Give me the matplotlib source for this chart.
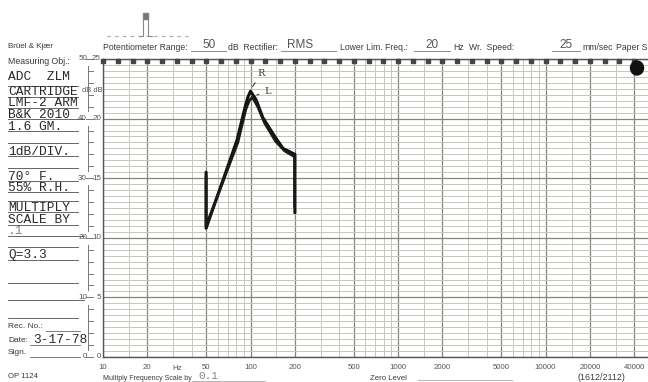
import numpy as np
import matplotlib
matplotlib.use("Agg")
import matplotlib.pyplot as plt
from matplotlib.lines import Line2D

# chart data
freq_labels = [10, 20, 50, 100, 200, 500, 1000, 2000, 5000, 10000, 20000, 40000]
db_major = [0, 5, 10, 15, 20, 25]
db_major_50 = [0, 10, 20, 30, 40, 50]

r_freq = [50, 50, 81, 92, 96, 100, 109, 121, 146, 166, 200, 200]
r_db = [15.5, 10.8, 18.2, 21.0, 21.8, 22.3, 21.6, 20.1, 18.5, 17.5, 17.0, 12.1]
l_freq = [50, 50, 82, 93, 98, 103, 112, 125, 148, 170, 199, 199]
l_db = [15.2, 11.0, 18.0, 20.8, 21.5, 21.8, 21.0, 19.6, 18.1, 17.3, 16.8, 12.6]

left_notes = ["ADC  ZLM", "CARTRIDGE", "LMF-2 ARM", "B&K 2010", "1.6 GM.",
              "1dB/DIV.", "70° F.", "55% R.H.", "MULTIPLY", "SCALE BY", ".1", "Q=3.3"]
left_note_y = [80, 95, 106, 118, 130, 155, 180, 191, 211, 223, 234, 258]

W, H = 648, 382
fig = plt.figure(figsize=(W / 100, H / 100), dpi=100)
fig.patch.set_facecolor("white")

def fx(px):
    return px / W

def fy(py):
    return 1 - py / H

SANS = "Liberation Sans"
MONO = "Liberation Mono"
INK = "#3a3a3a"
HAND = "#555555"

# main recorder grid
ax = fig.add_axes([fx(103), fy(357), 1 - fx(103), fy(59) - fy(357)])
ax.set_xscale("log")
ax.set_xlim(10, 49500)
ax.set_ylim(0, 25)

minor_col = "#c6c6ba"
major_col = "#85857f"
for k in range(1, 5):
    for m in [1, 1.5, 2, 3, 4, 5, 6, 7, 8, 9]:
        f = m * 10 ** k
        if f > 49500:
            continue
        heavy = f in freq_labels
        ax.axvline(f, color=major_col if heavy else minor_col,
                   lw=0.9 if heavy else 0.7, zorder=1)
for v in np.arange(0, 25.01, 0.5):
    heavy = abs(v % 5) < 1e-6
    ax.axhline(v, color=major_col if heavy else minor_col,
               lw=0.9 if heavy else 0.7, zorder=1)

# third-octave marks along the top edge
third = 10 * 10 ** (np.arange(0, 37) / 10.0)
third = third[third < 49500]
ax.plot(third, np.full(len(third), 24.8), "s", ms=2.8, color="#444444",
        clip_on=False, zorder=3)

ax.plot(r_freq, r_db, color="#111111", lw=2.2, solid_capstyle="round",
        solid_joinstyle="round", zorder=4)
ax.plot(l_freq, l_db, color="#1a1a1a", lw=2.0, solid_capstyle="round",
        solid_joinstyle="round", zorder=4)

ax.annotate("R", xy=(101, 22.5), xytext=(112, 23.6), fontsize=7, family="DejaVu Serif",
            color=INK, arrowprops=dict(arrowstyle="-", color=INK, lw=0.8))
ax.annotate("L", xy=(106, 21.9), xytext=(124, 22.1), fontsize=7, family="DejaVu Serif",
            color=INK, arrowprops=dict(arrowstyle="-", color=INK, lw=0.8))

ax.spines["right"].set_visible(False)
for side in ["left", "top", "bottom"]:
    ax.spines[side].set_color("#555555")
    ax.spines[side].set_linewidth(1.0)
ax.set_xticks([])
ax.set_yticks([])
ax.minorticks_off()

# x labels under the grid
xt = ax.get_xaxis_transform()
for f in freq_labels:
    ax.text(f, -0.035, str(f), transform=xt, ha="center", va="center",
            fontsize=5.6, family=SANS, color=HAND)
fig.text(fx(172), fy(368), "Hz", fontsize=5.6, family=SANS, color=HAND, va="center")

# y labels (50 dB / 25 dB scale) and side ruler
for a, b in zip(db_major_50, db_major):
    yy = fy(357 - b * 11.92)
    fig.text(fx(101), yy, "%d" % b, fontsize=5.8, family=SANS,
             color=HAND, ha="right", va="center")
    fig.text(fx(87), yy, "%d" % a, fontsize=5.8, family=SANS,
             color=HAND, ha="right", va="center")
    fig.add_artist(Line2D([fx(86), fx(93)], [yy] * 2, color="#777777", lw=0.7))
for b in db_major[:-1]:
    fig.add_artist(Line2D([fx(88)] * 2, [fy(357 - (b + 0.6) * 11.92), fy(357 - (b + 4.4) * 11.92)],
                          color="#777777", lw=0.7))
    for t in range(1, 5):
        yy = fy(357 - (b + t) * 11.92)
        fig.add_artist(Line2D([fx(88), fx(93)], [yy, yy], color="#777777", lw=0.7))
fig.text(fx(82), fy(90), "dB dB", fontsize=5.4, family=SANS, color=HAND, va="center")

# header line
fig.text(fx(8), fy(47), "Brüel & Kjær", fontsize=5.8, family=SANS, color=INK, va="center")
header = [(103, "Potentiometer Range:"), (228, "dB  Rectifier:"),
          (340, "Lower Lim. Freq.:"), (453, "Hz"), (469, "Wr.  Speed:"),
          (582, "mm/sec"), (616, "Paper Speed")]
for px, s in header:
    fig.text(fx(px), fy(47), s, fontsize=6.2, family=SANS, color=INK, va="center")
blanks = [(191, 226, "50"), (281, 336, "RMS"), (414, 450, "20"), (552, 580, "25")]
for x0, x1, s in blanks:
    fig.add_artist(Line2D([fx(x0), fx(x1)], [fy(51)] * 2, color="#777777", lw=0.6))
blank_text_x = [209, 300, 432, 566]
for (x0, x1, s), cx in zip(blanks, blank_text_x):
    fig.text(fx(cx), fy(45), s, fontsize=8.5, family=SANS, color=HAND,
             ha="center", va="center")

# pulse sketch at the top
fig.add_artist(Line2D([fx(107), fx(188)], [fy(36), fy(36)], color="#aaaaaa", lw=0.8,
                      ls=(0, (3, 4))))
fig.add_artist(Line2D([fx(139), fx(143), fx(143), fx(148), fx(148), fx(152)],
                      [fy(36), fy(36), fy(13), fy(13), fy(36), fy(36)],
                      color="#888888", lw=0.8))
fig.add_artist(plt.Rectangle((fx(143), fy(19)), fx(5), fy(13) - fy(19),
                             color="#777777", transform=fig.transFigure))

# punched mark top right
fig.add_artist(matplotlib.patches.Ellipse((fx(637), fy(68)), fx(13), fy(61) - fy(75),
                                          color="#111111", transform=fig.transFigure))

# left side panel
fig.text(fx(8), fy(62), "Measuring Obj.:", fontsize=6.3, family=SANS, color=INK, va="center")
for s, py in zip(left_notes, left_note_y):
    fig.text(fx(8), fy(py), s, fontsize=9.3, family=MONO, color="#2a2a2a", va="baseline",
             alpha=0.55 if s == ".1" else 1.0)
rules = [86, 97, 108, 119, 131, 143, 156, 168, 181, 192, 201, 212, 225, 236,
         247, 260, 283, 300, 318]
for py in rules:
    x1 = 84 if py in (119, 236, 300) else 78
    fig.add_artist(Line2D([fx(8), fx(x1)], [fy(py)] * 2, color="#666666", lw=0.7))

fig.text(fx(8), fy(327), "Rec. No.:", fontsize=6, family=SANS, color=INK, va="center")
fig.add_artist(Line2D([fx(46), fx(80)], [fy(331)] * 2, color="#666666", lw=0.6))
fig.text(fx(8), fy(340), "Date:", fontsize=6, family=SANS, color=INK, va="center")
fig.text(fx(33), fy(343), "3-17-78", fontsize=9.3, family=MONO, color="#2a2a2a", va="baseline")
fig.add_artist(Line2D([fx(30), fx(80)], [fy(345)] * 2, color="#666666", lw=0.6))
fig.text(fx(8), fy(353), "Sign.", fontsize=6, family=SANS, color=INK, va="center")
fig.add_artist(Line2D([fx(30), fx(80)], [fy(357)] * 2, color="#666666", lw=0.6))
fig.text(fx(8), fy(377), "OP 1124", fontsize=5.6, family=SANS, color=INK, va="center")

# footer
fig.text(fx(103), fy(378), "Multiply Frequency Scale by", fontsize=5.0, family=SANS,
         color=INK, va="center")
fig.add_artist(Line2D([fx(192), fx(265)], [fy(381)] * 2, color="#aaaaaa", lw=0.6))
fig.text(fx(198), fy(376), "0.1", fontsize=8, family=MONO, color="#888888", va="center")
fig.text(fx(370), fy(378), "Zero Level", fontsize=5.6, family=SANS, color=INK, va="center")
fig.add_artist(Line2D([fx(418), fx(512)], [fy(380)] * 2, color="#aaaaaa", lw=0.6))
fig.text(fx(578), fy(378), "(1612/2112)", fontsize=6.4, family=SANS, color=INK, va="center")

fig.savefig("out.png", dpi=100, facecolor="white")
